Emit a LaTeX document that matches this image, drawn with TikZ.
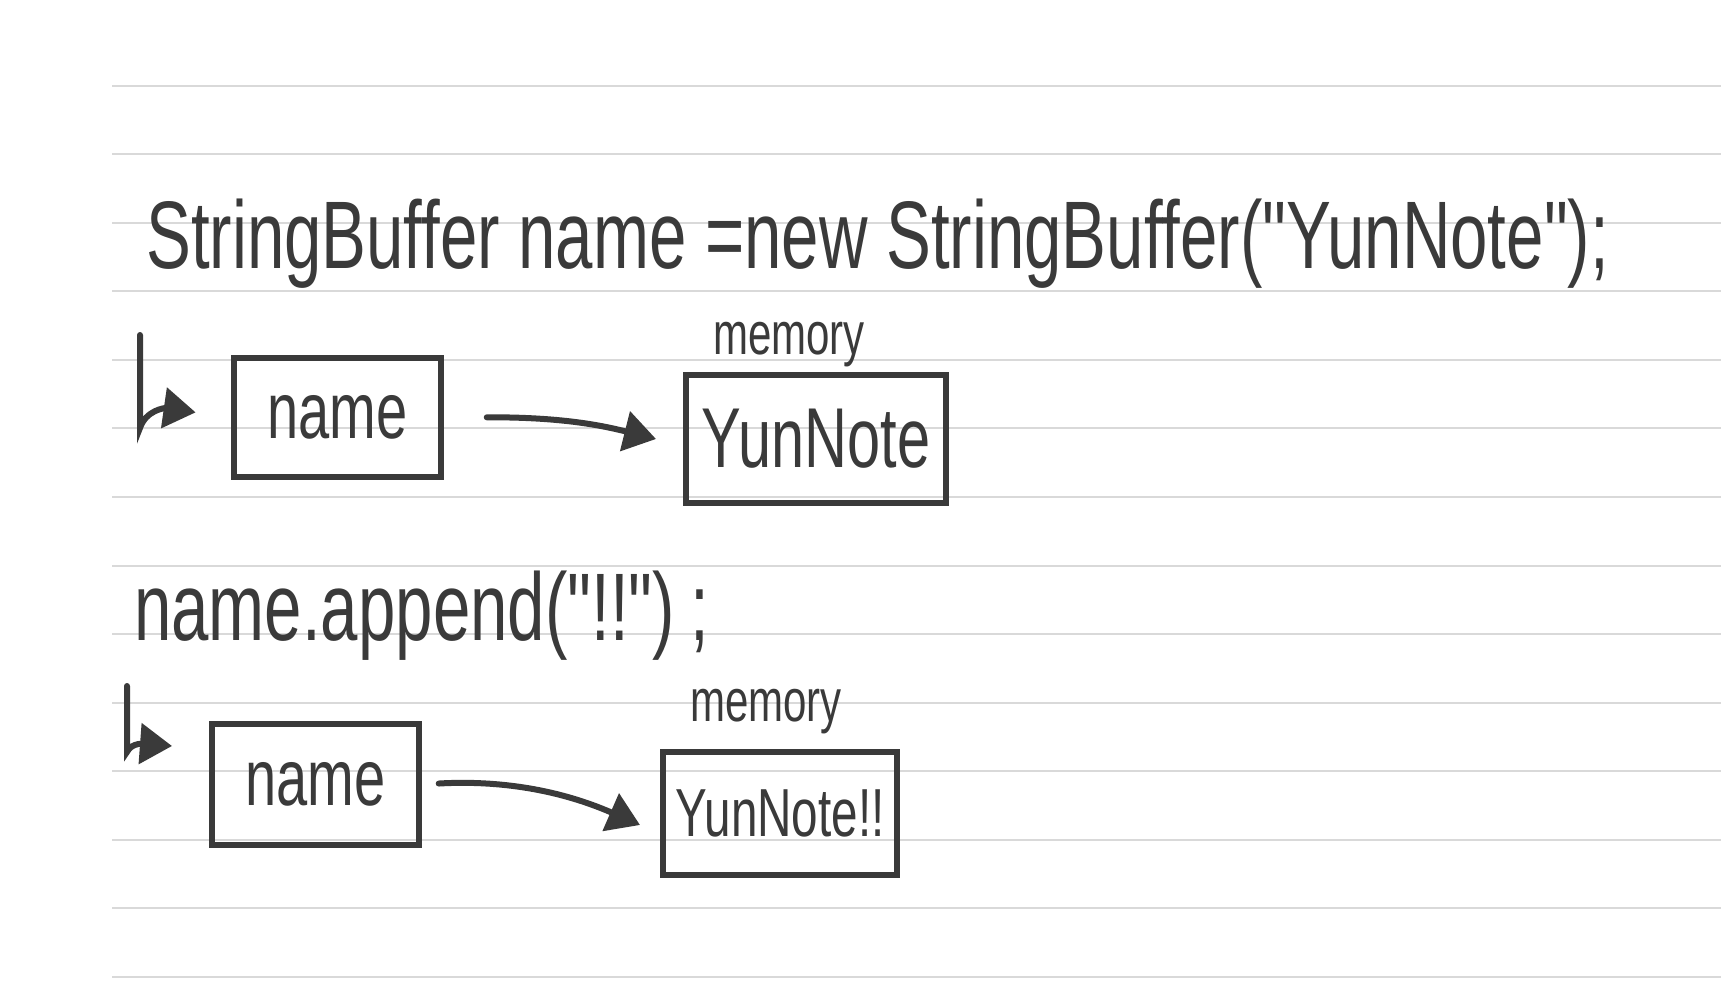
\documentclass[tikz,border=0pt]{standalone}
\usepackage{fontspec}
\usetikzlibrary{arrows.meta}
\newfontfamily\hand{Liberation Sans}[FakeStretch=0.7]
\definecolor{ink}{HTML}{3A3A3A}
\definecolor{rule}{HTML}{D9D9D9}
\begin{document}
\begin{tikzpicture}[x=1pt,y=-1pt,
  ruleline/.style={draw=rule,line width=2pt},
  codetext/.style={text=ink,inner sep=0pt,font=\hand\fontsize{96}{100}\selectfont},
  memtext/.style={text=ink,inner sep=0pt,font=\hand\fontsize{60}{64}\selectfont},
  varbox/.style={draw=ink,line width=5.5pt,inner sep=0pt,text=ink,font=\hand\fontsize{80}{84}\selectfont},
  membox/.style={draw=ink,line width=5.5pt,inner sep=0pt,text=ink},
  conn/.style={draw=ink,line width=6pt,line cap=round,-{Triangle[length=32pt,width=40pt]}}]
\fill[white] (0,0) rectangle (1721,1000);
\useasboundingbox (0,0) rectangle (1721,1000);
% ruled lines
\foreach \i in {0,...,13}{
  \draw[ruleline] (112,{85.6+68.56*\i}) -- (1721,{85.6+68.56*\i});
}
% code lines
\node[codetext,anchor=base west] (l1) at (146,269) {StringBuffer name =new StringBuffer("YunNote");};
\node[codetext,anchor=base west] (l2) at (134,640) {name.append("!!")\,;};
% first diagram
\node[varbox,minimum width=207pt,minimum height=119pt] (n1) at (337.5,417.5) {name};
\node[membox,minimum width=260pt,minimum height=128pt,font=\hand\fontsize{85}{88}\selectfont] (m1) at (816,439) {YunNote};
\node[memtext,anchor=base] (mem1) at (789,354) {memory};
\coordinate (s1) at (140,335);
\draw[conn,shorten >=36pt] (s1) -- (140,428) .. controls (146,410) and (165,408) .. (n1.west);
\coordinate (t1) at (656,439);
\draw[conn,shorten <=43pt] (n1.east) .. controls (560,417) and (600,425) .. (t1);
% second diagram
\node[varbox,minimum width=207pt,minimum height=121pt] (n2) at (315.5,784.5) {name};
\node[membox,minimum width=234pt,minimum height=123pt,font=\hand\fontsize{68}{72}\selectfont] (m2) at (780,813.5) {YunNote!!};
\node[memtext,anchor=base] (mem2) at (766,721) {memory};
\coordinate (s2) at (127,686);
\coordinate (t2) at (172,746);
\draw[conn] (s2) -- (127,752) .. controls (132,742) and (145,744) .. (t2);
\coordinate (t3) at (640,825);
\draw[conn,shorten <=17pt] (n2.east) .. controls (500,780) and (560,790) .. (t3);
\end{tikzpicture}
\end{document}
